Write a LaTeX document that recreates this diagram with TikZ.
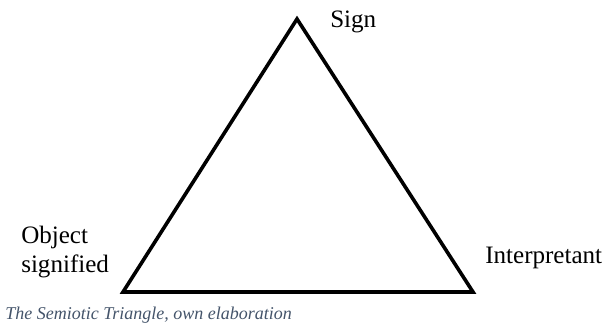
\documentclass[tikz,border=0pt]{standalone}
\usepackage{fontspec}
\setmainfont{Liberation Serif}
\usepackage{xcolor}
\usetikzlibrary{positioning}
\definecolor{captionblue}{HTML}{44546A}

\begin{document}
\begin{tikzpicture}[x=0.75pt, y=-0.75pt,
 side/.style={line width=2.7pt, line join=miter, line cap=rect},
 lbl/.style={font=\fontsize{18.8}{21.5}\selectfont, inner sep=0pt, align=left},
 caption/.style={font=\fontsize{13.5}{16}\selectfont\itshape, text=captionblue, inner sep=0pt}]
\useasboundingbox (0,0) rectangle (606,327);
% corners of the triangle
\coordinate (sign) at (297,19);
\coordinate (object) at (123,292);
\coordinate (interp) at (473,292);
\draw[side] (sign) -- (object) -- (interp) -- cycle;
% labels
\node[lbl, anchor=base west] (signlbl) at (330,28) {Sign};
\node[lbl, anchor=base west] (objlbl) at (21,244) {Object};
\node[lbl, anchor=base west] (objlbl2) at (21,273) {signified};
\node[lbl, anchor=base west] (interplbl) at (485,264) {Interpretant};
\node[caption, anchor=base west] (cap) at (5,320) {The Semiotic Triangle, own elaboration};
\end{tikzpicture}
\end{document}
